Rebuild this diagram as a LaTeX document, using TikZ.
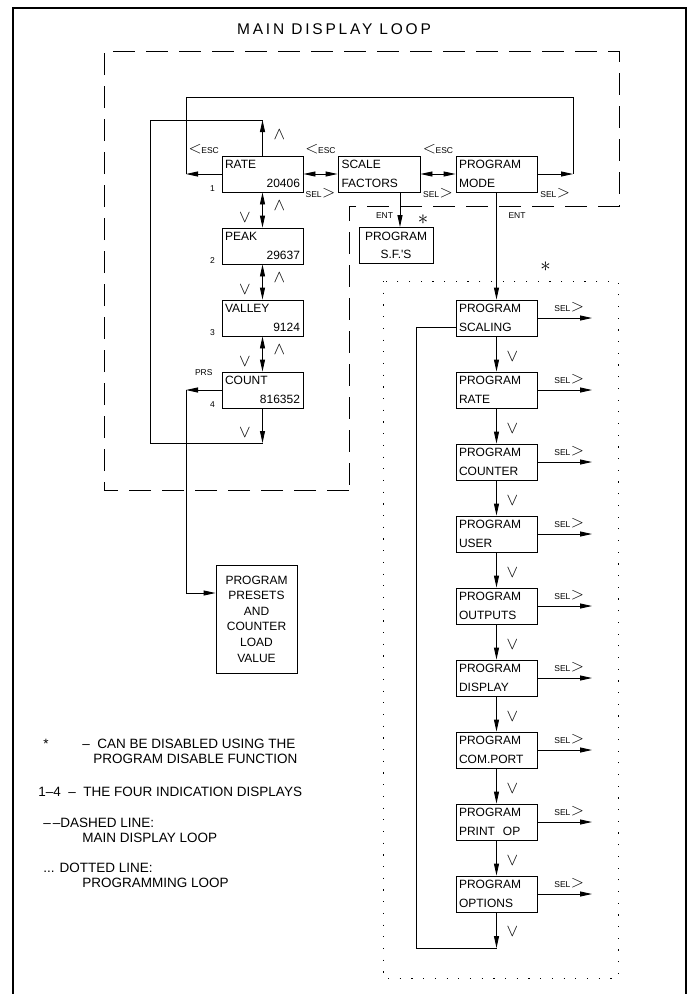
\documentclass[tikz,border=0pt]{standalone}
\usepackage{fontspec}
\setmainfont{Liberation Sans}
\usetikzlibrary{arrows.meta}

\newcommand{\escl}{{\fontsize{17}{17}\selectfont$<$}\kern-0.5pt ESC}
\newcommand{\selr}{SEL\kern0.5pt{\fontsize{17}{17}\selectfont$>$}}

\begin{document}
\begin{tikzpicture}[x=1pt, y=-1pt, line width=0.9pt,
	kasten/.style={draw, rectangle, minimum width=81pt, minimum height=36pt, inner sep=0pt, text width=75pt, align=left, font=\fontsize{12}{18.5}\selectfont},
	pf/.style={-{Triangle[length=12pt,width=5pt]}},
	ppf/.style={{Triangle[length=12pt,width=5pt]}-{Triangle[length=12pt,width=5pt]}},
	klein/.style={font=\fontsize{8.5}{8.5}\selectfont, inner sep=0pt},
	sym/.style={font=\fontsize{18}{18}\selectfont, inner sep=0pt},
	stern/.style={font=\fontsize{22}{22}\selectfont, inner sep=0pt},
	legende/.style={anchor=base west, inner sep=0pt, font=\fontsize{13.5}{15}\selectfont}]

	\useasboundingbox (0,0) rectangle (689,994);

	% Rahmen
	\draw[line width=2pt] (13,1000) |- (686,8) -- (686,1000);
	\node[font=\fontsize{15.5}{15.5}\selectfont\addfontfeature{LetterSpace=18}] (titel) at (334,29) {MAIN DISPLAY LOOP};

	\draw[dash pattern=on 22pt off 11pt] (349,490) -- (104,490) -- (104,51) -- (619,51) -- (619,206) -- (349,206) -- cycle;
	\draw[line width=0.8pt, dash pattern=on 1.2pt off 10.5pt] (383,281) rectangle (618,978);

	% Anzeigen
	\node[kasten] (rate) at (262.5,174) {RATE\\\hfill 20406};
	\node[kasten] (peak) at (262.5,246) {PEAK\\\hfill 29637};
	\node[kasten] (valley) at (262.5,318) {VALLEY\\\hfill 9124};
	\node[kasten] (count) at (262.5,390) {COUNT\\\hfill 816352};

	\node[klein] at ([xshift=-9pt,yshift=4pt]rate.south west) {1};
	\node[klein] at ([xshift=-9pt,yshift=4pt]peak.south west) {2};
	\node[klein] at ([xshift=-9pt,yshift=4pt]valley.south west) {3};
	\node[klein] at ([xshift=-9pt,yshift=4pt]count.south west) {4};

	\node[kasten, minimum width=82pt] (scale) at (379,174) {SCALE\\FACTORS};
	\node[kasten] (mode) at (496.5,174) {PROGRAM\\MODE};
	\node[kasten, minimum width=74pt, text width=68pt, align=center] (sfs) at (396,245.5) {PROGRAM\\S.F.\textquotesingle S};
	\node[kasten, minimum height=108pt, align=center, font=\fontsize{12}{15.6}\selectfont] (presets) at (256.5,619) {PROGRAM\\PRESETS\\AND\\COUNTER\\LOAD\\VALUE};

	\coordinate (esc0) at (186,174);
	\coordinate (sel0) at (573,174);
	\coordinate (ob) at (262.5,120);
	\coordinate (un) at (262.5,443);
	\coordinate (prs) at (186,390);

	\draw[pf] (rate) -- node[klein, above=20pt] {\escl} (esc0);
	\draw (esc0) -- ++(0,-77) -| (sel0);
	\draw[ppf] (rate) -- node[klein, above=20pt] {\escl} node[klein, below=14pt] {\selr} (scale);
	\draw[ppf] (scale) -- node[klein, above=20pt] {\escl} node[klein, below=14pt] {\selr} (mode);
	\draw[pf] (mode) -- node[klein, below=14pt] {\selr} (sel0);

	\draw[pf] (rate) -- node[sym, xshift=17pt, yshift=3pt] {$\wedge$} (ob);
	\draw (ob) -| (150,443) -- (un);
	\draw[pf] (count) -- node[sym, xshift=-17.5pt, yshift=-7pt] {$\vee$} (un);

	\draw[ppf] (rate) -- node[sym, xshift=17pt, yshift=4pt] {$\wedge$} node[sym, xshift=-17.5pt, yshift=-8pt] {$\vee$} (peak);
	\draw[ppf] (peak) -- node[sym, xshift=17pt, yshift=4pt] {$\wedge$} node[sym, xshift=-17.5pt, yshift=-8pt] {$\vee$} (valley);
	\draw[ppf] (valley) -- node[sym, xshift=17pt, yshift=4pt] {$\wedge$} node[sym, xshift=-17.5pt, yshift=-8pt] {$\vee$} (count);

	\draw[pf] (count) -- node[klein, above=14pt] {PRS} (prs);
	\draw[pf] (prs) |- ([yshift=26pt]presets.west);

	\draw[pf] ([xshift=4pt]sfs.north |- scale.south) -- node[klein, xshift=-15.5pt, yshift=-6pt] {ENT} node[stern, xshift=23pt, yshift=-10pt] {$\ast$} ([xshift=4pt]sfs.north);

	% Programmierschleife
	\node[kasten] (p1) at (496.5,318) {PROGRAM\\SCALING};
	\node[kasten] (p2) at (496.5,390) {PROGRAM\\RATE};
	\node[kasten] (p3) at (496.5,462) {PROGRAM\\COUNTER};
	\node[kasten] (p4) at (496.5,534) {PROGRAM\\USER};
	\node[kasten] (p5) at (496.5,606) {PROGRAM\\OUTPUTS};
	\node[kasten] (p6) at (496.5,678) {PROGRAM\\DISPLAY};
	\node[kasten] (p7) at (496.5,750) {PROGRAM\\COM.PORT};
	\node[kasten] (p8) at (496.5,822) {PROGRAM\\PRINT\ \ OP};
	\node[kasten] (p9) at (496.5,894) {PROGRAM\\OPTIONS};

	\draw[pf] (mode) -- node[klein, pos=0.22, xshift=20.5pt] {ENT} node[stern, pos=0.69, xshift=49pt] {$\ast$} (p1);

	\draw[pf] (p1) -- node[sym, xshift=16pt, yshift=-3pt] {$\vee$} (p2);
	\draw[pf] (p2) -- node[sym, xshift=16pt, yshift=-3pt] {$\vee$} (p3);
	\draw[pf] (p3) -- node[sym, xshift=16pt, yshift=-3pt] {$\vee$} (p4);
	\draw[pf] (p4) -- node[sym, xshift=16pt, yshift=-3pt] {$\vee$} (p5);
	\draw[pf] (p5) -- node[sym, xshift=16pt, yshift=-3pt] {$\vee$} (p6);
	\draw[pf] (p6) -- node[sym, xshift=16pt, yshift=-3pt] {$\vee$} (p7);
	\draw[pf] (p7) -- node[sym, xshift=16pt, yshift=-3pt] {$\vee$} (p8);
	\draw[pf] (p8) -- node[sym, xshift=16pt, yshift=-3pt] {$\vee$} (p9);

	\coordinate (ru) at (496.5,948);
	\draw[pf] (p9) -- node[sym, xshift=16pt, yshift=-1pt] {$\vee$} (ru);
	\draw ([yshift=-9pt]p1.west) -- ++(-39.5,0) |- (ru);

	\coordinate (s1) at (592,318);
	\coordinate (s2) at (592,390);
	\coordinate (s3) at (592,462);
	\coordinate (s4) at (592,534);
	\coordinate (s5) at (592,606);
	\coordinate (s6) at (592,678);
	\coordinate (s7) at (592,750);
	\coordinate (s8) at (592,822);
	\coordinate (s9) at (592,894);
	\draw[pf] (p1) -- node[klein, above=6pt, xshift=4.5pt] {\selr} (s1);
	\draw[pf] (p2) -- node[klein, above=6pt, xshift=4.5pt] {\selr} (s2);
	\draw[pf] (p3) -- node[klein, above=6pt, xshift=4.5pt] {\selr} (s3);
	\draw[pf] (p4) -- node[klein, above=6pt, xshift=4.5pt] {\selr} (s4);
	\draw[pf] (p5) -- node[klein, above=6pt, xshift=4.5pt] {\selr} (s5);
	\draw[pf] (p6) -- node[klein, above=6pt, xshift=4.5pt] {\selr} (s6);
	\draw[pf] (p7) -- node[klein, above=6pt, xshift=4.5pt] {\selr} (s7);
	\draw[pf] (p8) -- node[klein, above=6pt, xshift=4.5pt] {\selr} (s8);
	\draw[pf] (p9) -- node[klein, above=6pt, xshift=4.5pt] {\selr} (s9);

	% Legende
	\node[legende] (l1) at (43,748) {*};
	\node[legende] (l2) at (82,748) {--\ \ CAN BE DISABLED USING THE};
	\node[legende] (l3) at (93,763) {PROGRAM DISABLE FUNCTION};
	\node[legende] (l4) at (38,796) {1--4 \ --\ \ THE FOUR INDICATION DISPLAYS};
	\node[legende] (l5) at (43,827) {--\kern2pt--DASHED LINE:};
	\node[legende] (l6) at (82,842) {MAIN DISPLAY LOOP};
	\node[legende] (l7) at (43,872) {... DOTTED LINE:};
	\node[legende] (l8) at (82,887) {PROGRAMMING LOOP};

\end{tikzpicture}
\end{document}
